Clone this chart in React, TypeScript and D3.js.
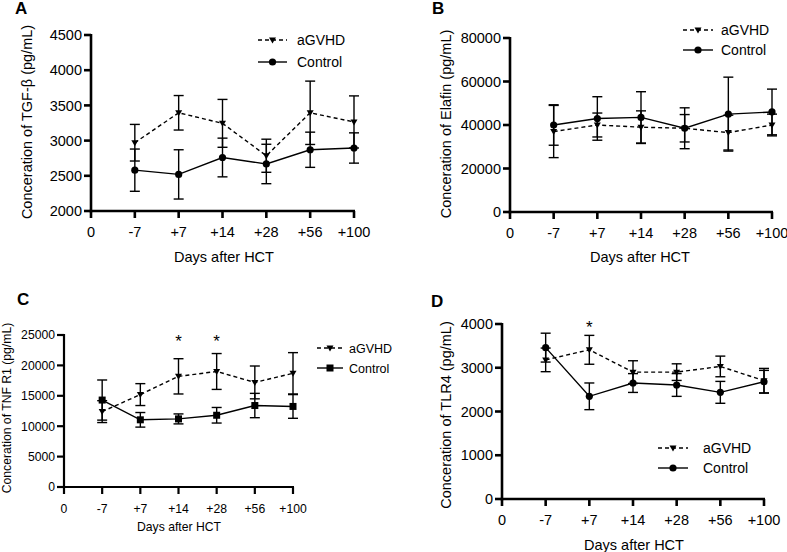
import React, { useEffect, useRef } from "react"
import * as d3 from "d3"

// categories (x ticks); "0" sits on the y axis
const xTickLabels = ["0", "-7", "+7", "+14", "+28", "+56", "+100"]
const days = ["-7", "+7", "+14", "+28", "+56", "+100"]
const seriesNames = ["aGVHD", "Control"]

// A - TGF-beta
const tgfAgvhd = [2970, 3395, 3245, 2785, 3395, 3265]
const tgfAgvhdErr = [260, 245, 340, 235, 450, 370]
const tgfControl = [2580, 2520, 2760, 2668, 2870, 2895]
const tgfControlErr = [300, 350, 275, 280, 250, 215]
const tgfTicks = [2000, 2500, 3000, 3500, 4000, 4500]

// B - Elafin
const elafinAgvhd = [37000, 40000, 39000, 38500, 36500, 40000]
const elafinAgvhdErr = [12000, 5500, 7500, 6300, 8000, 5000]
const elafinControl = [40000, 43000, 43500, 38500, 45000, 46000]
const elafinControlErr = [9300, 10000, 11800, 9400, 17000, 10500]
const elafinTicks = [0, 20000, 40000, 60000, 80000]

// C - TNF R1
const tnfAgvhd = [12400, 15200, 18200, 19000, 17200, 18700]
const tnfAgvhdErr = [1800, 1800, 2900, 2950, 2700, 3400]
const tnfControl = [14300, 11050, 11200, 11800, 13400, 13250]
const tnfControlErr = [3300, 1200, 820, 1280, 2000, 1950]
const tnfTicks = [0, 5000, 10000, 15000, 20000, 25000]
const tnfStars = ["+14", "+28"]

// D - TLR4
const tlrAgvhd = [3180, 3410, 2900, 2900, 3030, 2705]
const tlrAgvhdErr = [270, 330, 260, 190, 236, 280]
const tlrControl = [3460, 2347, 2651, 2606, 2438, 2680]
const tlrControlErr = [330, 305, 215, 260, 250, 260]
const tlrTicks = [0, 1000, 2000, 3000, 4000]
const tlrStars = ["+7"]

const FONT = "Liberation Sans, Arial, sans-serif"

type Panel = {
  letter: string
  letterPos: number[]
  left: number
  right: number
  top: number
  bottom: number
  ticks: number[]
  agvhd: number[]
  agvhdErr: number[]
  control: number[]
  controlErr: number[]
  controlShape: string
  yTitle: string
  yTitlePos: number[]
  xTitlePos: number[]
  legend: number[] // lineX0, lineX1, textX, row1Y, row2Y
  stars: string[]
  starY: number
  fs: number
  legFs: number
  axisW: number
}

const panels: Panel[] = [
  {
    letter: "A", letterPos: [15, 14],
    left: 91, right: 354, top: 35, bottom: 211,
    ticks: tgfTicks, agvhd: tgfAgvhd, agvhdErr: tgfAgvhdErr, control: tgfControl, controlErr: tgfControlErr,
    controlShape: "circle", yTitle: "Conceration of TGF-β (pg/mL)", yTitlePos: [32, 122], xTitlePos: [224, 262],
    legend: [258, 287, 297, 40, 62], stars: [], starY: 0, fs: 14.5, legFs: 14, axisW: 2.6,
  },
  {
    letter: "B", letterPos: [432, 14],
    left: 510, right: 772, top: 38, bottom: 212,
    ticks: elafinTicks, agvhd: elafinAgvhd, agvhdErr: elafinAgvhdErr, control: elafinControl, controlErr: elafinControlErr,
    controlShape: "circle", yTitle: "Conceration of Elafin (pg/mL)", yTitlePos: [451, 124], xTitlePos: [640, 262],
    legend: [683, 713, 721, 30, 50], stars: [], starY: 0, fs: 14.5, legFs: 14, axisW: 2.6,
  },
  {
    letter: "C", letterPos: [17, 305],
    left: 64, right: 293, top: 335, bottom: 487,
    ticks: tnfTicks, agvhd: tnfAgvhd, agvhdErr: tnfAgvhdErr, control: tnfControl, controlErr: tnfControlErr,
    controlShape: "square", yTitle: "Conceration of TNF R1 (pg/mL)", yTitlePos: [11, 408], xTitlePos: [179, 531],
    legend: [317, 343, 349, 348, 368], stars: tnfStars, starY: 347, fs: 12.2, legFs: 12.5, axisW: 2.2,
  },
  {
    letter: "D", letterPos: [431, 307],
    left: 502, right: 764, top: 324, bottom: 499,
    ticks: tlrTicks, agvhd: tlrAgvhd, agvhdErr: tlrAgvhdErr, control: tlrControl, controlErr: tlrControlErr,
    controlShape: "circle", yTitle: "Conceration of TLR4 (pg/mL)", yTitlePos: [451, 415], xTitlePos: [634, 550],
    legend: [658, 688, 703, 448, 468], stars: tlrStars, starY: 333, fs: 14.5, legFs: 14, axisW: 2.6,
  },
]

function drawMarker(g: any, shape: string, x: number, y: number) {
  if (shape === "circle") {
    g.append("circle").attr("cx", x).attr("cy", y).attr("r", 3.6).attr("fill", "#000")
  } else if (shape === "square") {
    g.append("rect").attr("x", x - 3.5).attr("y", y - 3.5).attr("width", 7).attr("height", 7).attr("fill", "#000")
  } else {
    // downward triangle
    g.append("path")
      .attr("d", `M${x - 3.5},${y - 2.5} L${x + 3.5},${y - 2.5} L${x},${y + 3.5} Z`)
      .attr("fill", "#000")
  }
}

function drawPanel(svg: any, p: Panel) {
  const x = d3.scaleLinear().domain([0, days.length]).range([p.left, p.right])
  const y = d3.scaleLinear().domain([p.ticks[0], p.ticks[p.ticks.length - 1]]).range([p.bottom, p.top])
  const g = svg.append("g")
  const tickLen = 7

  // series: error bars, lines, markers
  const series = [
    { vals: p.agvhd, err: p.agvhdErr, dash: "4,3", shape: "triangle" },
    { vals: p.control, err: p.controlErr, dash: null, shape: p.controlShape },
  ]
  series.forEach((s) => {
    s.vals.forEach((v, i) => {
      const cx = x(i + 1)
      const hi = y(v + s.err[i])
      const lo = y(v - s.err[i])
      g.append("line").attr("x1", cx).attr("x2", cx).attr("y1", hi).attr("y2", lo).attr("stroke", "#000").attr("stroke-width", 1.4)
      g.append("line").attr("x1", cx - 5).attr("x2", cx + 5).attr("y1", hi).attr("y2", hi).attr("stroke", "#000").attr("stroke-width", 1.4)
      g.append("line").attr("x1", cx - 5).attr("x2", cx + 5).attr("y1", lo).attr("y2", lo).attr("stroke", "#000").attr("stroke-width", 1.4)
    })
    const line = d3.line<number>().x((d, i) => x(i + 1)).y((d) => y(d))
    const path = g.append("path").attr("d", line(s.vals)).attr("fill", "none").attr("stroke", "#000").attr("stroke-width", 1.4)
    if (s.dash) path.attr("stroke-dasharray", s.dash)
    s.vals.forEach((v, i) => drawMarker(g, s.shape, x(i + 1), y(v)))
  })

  // axes
  g.append("line").attr("x1", p.left).attr("x2", p.left).attr("y1", p.top - 1).attr("y2", p.bottom + p.axisW / 2)
    .attr("stroke", "#000").attr("stroke-width", p.axisW)
  g.append("line").attr("x1", p.left - p.axisW / 2).attr("x2", p.right + 1).attr("y1", p.bottom).attr("y2", p.bottom)
    .attr("stroke", "#000").attr("stroke-width", p.axisW)
  p.ticks.forEach((t) => {
    g.append("line").attr("x1", p.left - tickLen).attr("x2", p.left).attr("y1", y(t)).attr("y2", y(t))
      .attr("stroke", "#000").attr("stroke-width", p.axisW)
    g.append("text").attr("x", p.left - tickLen - 2).attr("y", y(t)).attr("dy", "0.36em")
      .attr("text-anchor", "end").attr("font-size", p.fs).attr("font-family", FONT).text(t)
  })
  xTickLabels.forEach((lab, i) => {
    g.append("line").attr("x1", x(i)).attr("x2", x(i)).attr("y1", p.bottom).attr("y2", p.bottom + tickLen)
      .attr("stroke", "#000").attr("stroke-width", p.axisW)
    g.append("text").attr("x", x(i)).attr("y", p.bottom + 26).attr("text-anchor", "middle")
      .attr("font-size", p.fs).attr("font-family", FONT).text(lab)
  })

  // titles
  g.append("text").attr("x", p.xTitlePos[0]).attr("y", p.xTitlePos[1]).attr("text-anchor", "middle")
    .attr("font-size", p.fs).attr("font-family", FONT).text("Days after HCT")
  g.append("text").attr("transform", `translate(${p.yTitlePos[0]},${p.yTitlePos[1]}) rotate(-90)`)
    .attr("text-anchor", "middle").attr("font-size", p.fs).attr("font-family", FONT).text(p.yTitle)
  g.append("text").attr("x", p.letterPos[0]).attr("y", p.letterPos[1]).attr("font-size", 17)
    .attr("font-weight", "bold").attr("font-family", FONT).text(p.letter)

  // stars
  p.stars.forEach((s) => {
    g.append("text").attr("x", x(days.indexOf(s) + 1)).attr("y", p.starY).attr("text-anchor", "middle")
      .attr("font-size", 17).attr("font-family", FONT).text("*")
  })

  // legend
  const [lx0, lx1, tx, r1, r2] = p.legend
  const rows = [
    { y: r1, dash: "4,3", shape: "triangle", name: seriesNames[0] },
    { y: r2, dash: null, shape: p.controlShape, name: seriesNames[1] },
  ]
  rows.forEach((r) => {
    const l = g.append("line").attr("x1", lx0).attr("x2", lx1).attr("y1", r.y).attr("y2", r.y)
      .attr("stroke", "#000").attr("stroke-width", 1.4)
    if (r.dash) l.attr("stroke-dasharray", r.dash)
    drawMarker(g, r.shape, (lx0 + lx1) / 2, r.y)
    g.append("text").attr("x", tx).attr("y", r.y).attr("dy", "0.36em").attr("font-size", p.legFs)
      .attr("font-family", FONT).text(r.name)
  })
}

export default function App() {
  const ref = useRef<SVGSVGElement>(null)
  useEffect(() => {
    const svg = d3.select(ref.current)
    svg.selectAll("*").remove()
    panels.forEach((p) => drawPanel(svg, p))
  }, [])
  return (
    <svg
      ref={ref}
      width={787}
      height={552}
      style={{ position: "absolute", left: 0, top: 0, background: "#fff" }}
    />
  )
}
